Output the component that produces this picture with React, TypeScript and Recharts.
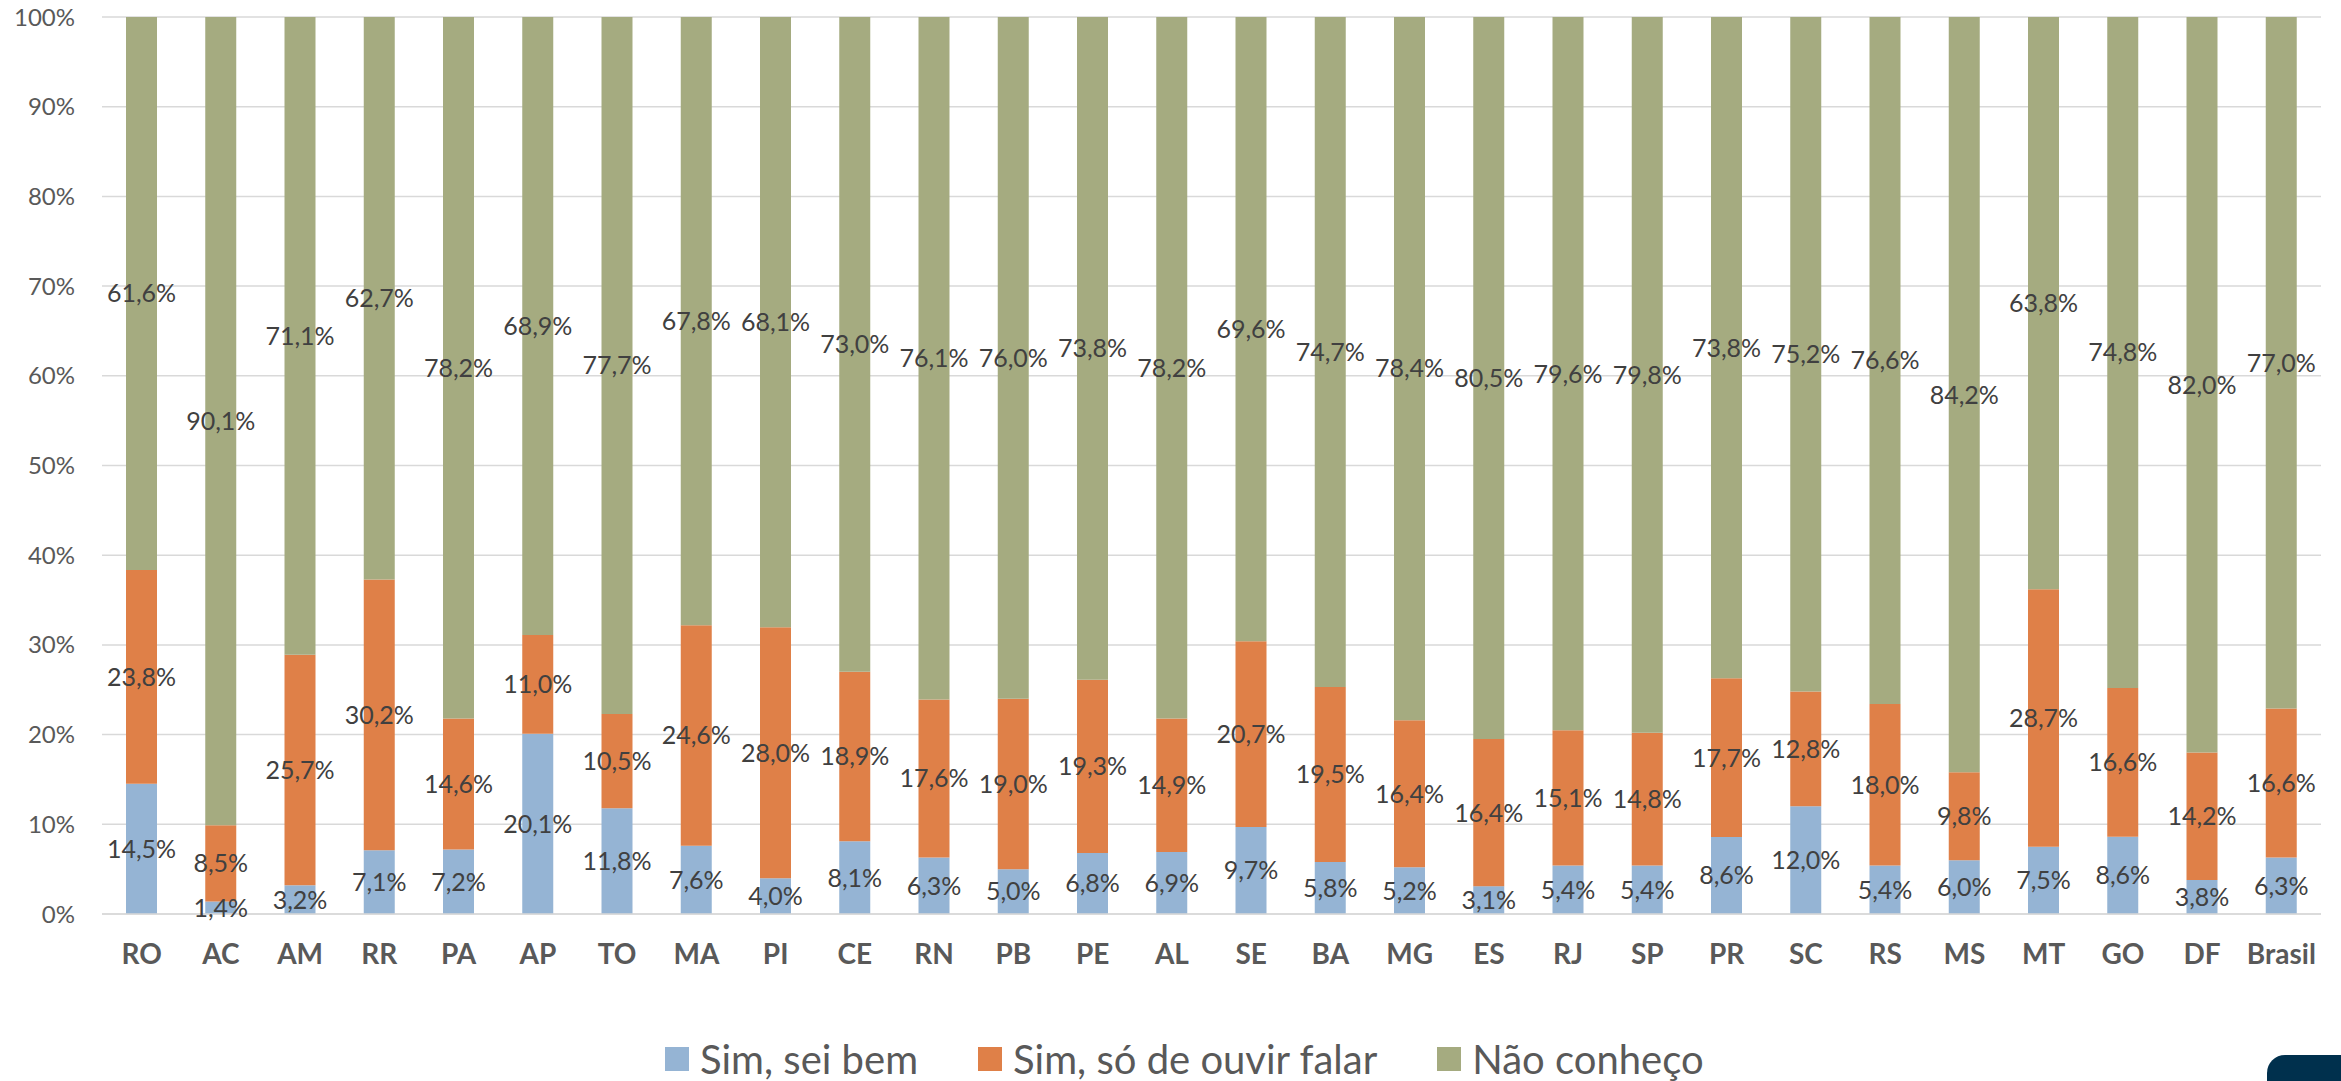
import { BarChart, Bar, XAxis, YAxis, CartesianGrid, LabelList } from 'recharts'

const states = [
  'RO', 'AC', 'AM', 'RR', 'PA', 'AP', 'TO', 'MA', 'PI', 'CE', 'RN', 'PB', 'PE', 'AL',
  'SE', 'BA', 'MG', 'ES', 'RJ', 'SP', 'PR', 'SC', 'RS', 'MS', 'MT', 'GO', 'DF', 'Brasil',
]

const seiBem = [
  14.5, 1.4, 3.2, 7.1, 7.2, 20.1, 11.8, 7.6, 4.0, 8.1, 6.3, 5.0, 6.8, 6.9,
  9.7, 5.8, 5.2, 3.1, 5.4, 5.4, 8.6, 12.0, 5.4, 6.0, 7.5, 8.6, 3.8, 6.3,
]

const ouvirFalar = [
  23.8, 8.5, 25.7, 30.2, 14.6, 11.0, 10.5, 24.6, 28.0, 18.9, 17.6, 19.0, 19.3, 14.9,
  20.7, 19.5, 16.4, 16.4, 15.1, 14.8, 17.7, 12.8, 18.0, 9.8, 28.7, 16.6, 14.2, 16.6,
]

const naoConheco = [
  61.6, 90.1, 71.1, 62.7, 78.2, 68.9, 77.7, 67.8, 68.1, 73.0, 76.1, 76.0, 73.8, 78.2,
  69.6, 74.7, 78.4, 80.5, 79.6, 79.8, 73.8, 75.2, 76.6, 84.2, 63.8, 74.8, 82.0, 77.0,
]

const yTickPercents = [0, 10, 20, 30, 40, 50, 60, 70, 80, 90, 100]

const series = [
  { key: 'seiBem', name: 'Sim, sei bem', color: '#95b4d4' },
  { key: 'ouvirFalar', name: 'Sim, só de ouvir falar', color: '#df8048' },
  { key: 'naoConheco', name: 'Não conheço', color: '#a5ab80' },
]

const data = states.map((uf, i) => ({
  uf,
  seiBem: seiBem[i],
  ouvirFalar: ouvirFalar[i],
  naoConheco: naoConheco[i],
}))

const fmt = (v: any) => `${Number(v).toFixed(1).replace('.', ',')}%`

export default function App() {
  return (
    <div
      style={{
        position: 'absolute', left: 0, top: 0, width: 2341, height: 1081,
        background: '#fff', fontFamily: 'Lato, "Open Sans", sans-serif', overflow: 'hidden',
      }}
    >
      <BarChart
        width={2341}
        height={1081}
        data={data}
        stackOffset="expand"
        barSize={31}
        margin={{ top: 17, right: 20, left: 0, bottom: 137 }}
      >
        <CartesianGrid vertical={false} stroke="#d9d9d9" strokeWidth={1.5} />
        <XAxis
          dataKey="uf"
          interval={0}
          tickLine={false}
          axisLine={{ stroke: '#d9d9d9', strokeWidth: 1.5 }}
          tickSize={6}
          tickMargin={24}
          tick={{ fill: '#595959', fontSize: 28, fontWeight: 700 }}
        />
        <YAxis
          width={102}
          domain={[0, 1]}
          ticks={yTickPercents.map(p => p / 100)}
          tickFormatter={(v: number) => `${Math.round(v * 100)}%`}
          tickLine={false}
          axisLine={false}
          tickSize={6}
          tickMargin={21}
          tick={{ fill: '#595959', fontSize: 24 }}
        />
        {series.map(s => (
          <Bar key={s.key} dataKey={s.key} name={s.name} stackId="a" fill={s.color} isAnimationActive={false}>
            <LabelList dataKey={s.key} position="center" formatter={fmt} fill="#404040" fontSize={25} />
          </Bar>
        ))}
      </BarChart>

      {/* legend */}
      <div
        style={{
          position: 'absolute', left: 665, top: 1047, height: 24, display: 'flex', alignItems: 'center',
          fontSize: 40, lineHeight: '24px', color: '#595959', whiteSpace: 'nowrap',
        }}
      >
        {series.map(s => (
          <div key={s.key} style={{ display: 'flex', alignItems: 'center', marginRight: 60 }}>
            <span style={{ width: 24, height: 24, background: s.color, marginRight: 11, display: 'inline-block' }} />
            <span>{s.name}</span>
          </div>
        ))}
      </div>

      {/* logo fragment in the corner */}
      <div
        style={{
          position: 'absolute', left: 2267, top: 1055, width: 80, height: 30,
          background: '#00304d', borderTopLeftRadius: 18,
        }}
      />
    </div>
  )
}
